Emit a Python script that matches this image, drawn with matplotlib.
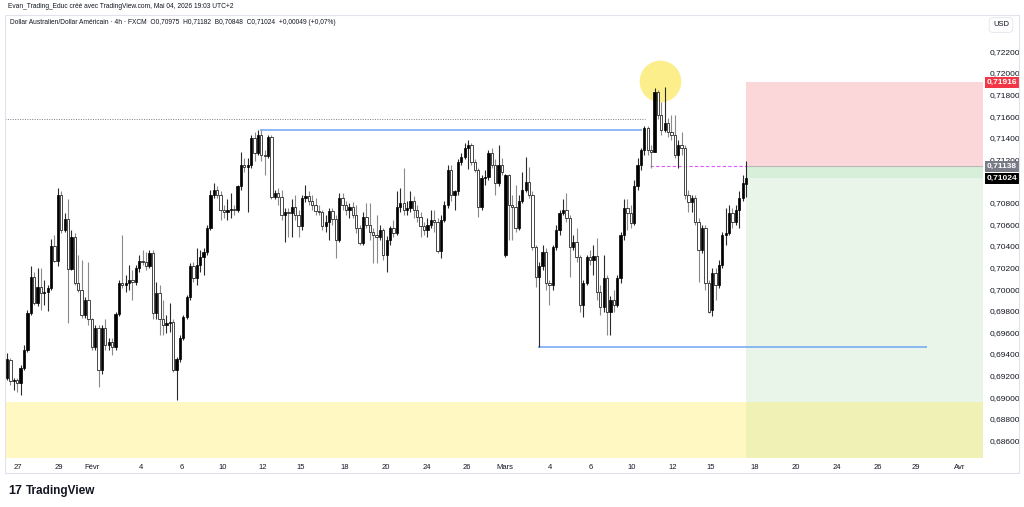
import numpy as np
import matplotlib.pyplot as plt
from matplotlib.patches import Rectangle

plt.rcParams['font.family'] = ['Liberation Sans', 'DejaVu Sans']

# 4h candles AUD/USD (one value per bar)
opens = [
    0.6918, 0.6934, 0.6915, 0.6916, 0.6913, 0.6927, 0.6944, 0.6978, 0.7011, 0.6987,
    0.7002, 0.6996, 0.6997, 0.7001, 0.7040, 0.7026, 0.7087, 0.7055, 0.7065, 0.7019,
    0.7048, 0.7006, 0.6999, 0.6976, 0.6990, 0.6972, 0.6946, 0.6964, 0.6925, 0.6964,
    0.6948, 0.6951, 0.6946, 0.6977, 0.7006, 0.7004, 0.7006, 0.7008, 0.7007, 0.7020,
    0.7026, 0.7025, 0.7021, 0.7033, 0.6978, 0.6996, 0.6972, 0.6967, 0.6969, 0.6970,
    0.6925, 0.6935, 0.6955, 0.6974, 0.6993, 0.7021, 0.7010, 0.7022, 0.7030, 0.7034,
    0.7057, 0.7087, 0.7092, 0.7087, 0.7073, 0.7071, 0.7073, 0.7074, 0.7073, 0.7095,
    0.7115, 0.7113, 0.7115, 0.7140, 0.7126, 0.7143, 0.7124, 0.7123, 0.7141, 0.7085,
    0.7089, 0.7085, 0.7069, 0.7071, 0.7070, 0.7076, 0.7069, 0.7058, 0.7084, 0.7086,
    0.7082, 0.7078, 0.7072, 0.7071, 0.7058, 0.7062, 0.7072, 0.7065, 0.7045, 0.7084,
    0.7078, 0.7073, 0.7076, 0.7069, 0.7057, 0.7043, 0.7067, 0.7059, 0.7053, 0.7050,
    0.7048, 0.7055, 0.7032, 0.7045, 0.7057, 0.7052, 0.7076, 0.7080, 0.7073, 0.7075,
    0.7082, 0.7073, 0.7067, 0.7058, 0.7055, 0.7059, 0.7064, 0.7062, 0.7035, 0.7064,
    0.7078, 0.7110, 0.7087, 0.7091, 0.7118, 0.7122, 0.7131, 0.7133, 0.7118, 0.7110,
    0.7076, 0.7103, 0.7104, 0.7126, 0.7115, 0.7098, 0.7115, 0.7032, 0.7106, 0.7078,
    0.7076, 0.7057, 0.7082, 0.7092, 0.7099, 0.7087, 0.7039, 0.7011, 0.7021, 0.7034,
    0.7006, 0.7004, 0.7039, 0.7055, 0.7070, 0.7073, 0.7066, 0.7039, 0.7044, 0.7030,
    0.6985, 0.7006, 0.7030, 0.7027, 0.7031, 0.6997, 0.6983, 0.7010, 0.6979, 0.6990,
    0.6985, 0.7010, 0.7050, 0.7075, 0.7070, 0.7061, 0.7095, 0.7115, 0.7129, 0.7149,
    0.7129, 0.7127, 0.7182, 0.7161, 0.7147, 0.7154, 0.7145, 0.7143, 0.7124, 0.7133,
    0.7131, 0.7087, 0.7081, 0.7084, 0.7062, 0.7036, 0.7057, 0.7006, 0.6981, 0.7015,
    0.7004, 0.7022, 0.7050, 0.7052, 0.7070, 0.7062, 0.7073, 0.7084, 0.70975,
]
highs = [
    0.6941, 0.6936, 0.6918, 0.6918, 0.6930, 0.6948, 0.6981, 0.7021, 0.7016, 0.7020,
    0.7020, 0.7008, 0.7004, 0.7046, 0.7050, 0.7094, 0.7091, 0.7070, 0.7083, 0.7055,
    0.7052, 0.7032, 0.7027, 0.6993, 0.7025, 0.6973, 0.6967, 0.6967, 0.6967, 0.6972,
    0.6955, 0.6955, 0.6979, 0.7008, 0.7050, 0.7013, 0.7022, 0.7018, 0.7022, 0.7032,
    0.7036, 0.7034, 0.7036, 0.7036, 0.7007, 0.7004, 0.6990, 0.6976, 0.6987, 0.6972,
    0.6937, 0.6958, 0.6976, 0.6995, 0.7024, 0.7025, 0.7038, 0.7036, 0.7038, 0.7059,
    0.7092, 0.7098, 0.7095, 0.7091, 0.7078, 0.7083, 0.7089, 0.7078, 0.7096, 0.7127,
    0.7121, 0.7121, 0.7143, 0.7145, 0.7147, 0.7147, 0.7129, 0.7143, 0.7143, 0.7092,
    0.7094, 0.7092, 0.7075, 0.7075, 0.7083, 0.7087, 0.7073, 0.7087, 0.7096, 0.7091,
    0.7087, 0.7084, 0.7078, 0.7073, 0.7069, 0.7075, 0.7075, 0.7069, 0.7089, 0.7089,
    0.7082, 0.7080, 0.7081, 0.7078, 0.7059, 0.7071, 0.7080, 0.7080, 0.7057, 0.7069,
    0.7059, 0.7057, 0.7049, 0.7058, 0.7064, 0.7091, 0.7094, 0.7112, 0.7082, 0.7091,
    0.7086, 0.7078, 0.7071, 0.7062, 0.7066, 0.7073, 0.7073, 0.7066, 0.7069, 0.7082,
    0.7115, 0.7115, 0.7092, 0.7120, 0.7126, 0.7135, 0.7138, 0.7135, 0.7120, 0.7112,
    0.7106, 0.7110, 0.7129, 0.7131, 0.7120, 0.7133, 0.7121, 0.7107, 0.7107, 0.7087,
    0.7096, 0.7087, 0.7108, 0.7122, 0.7113, 0.7091, 0.7041, 0.7025, 0.7041, 0.7038,
    0.7008, 0.7041, 0.7059, 0.7073, 0.7083, 0.7089, 0.7069, 0.7050, 0.7057, 0.7032,
    0.7008, 0.7032, 0.7036, 0.7041, 0.7047, 0.7004, 0.7032, 0.7013, 0.6994, 0.6999,
    0.7013, 0.7053, 0.7083, 0.7083, 0.7078, 0.7101, 0.7121, 0.7131, 0.7151, 0.7151,
    0.7133, 0.7186, 0.7184, 0.7173, 0.7187, 0.7158, 0.7161, 0.7161, 0.7138, 0.7145,
    0.7133, 0.7092, 0.7087, 0.7087, 0.7066, 0.7059, 0.7059, 0.7008, 0.7020, 0.7020,
    0.7027, 0.7053, 0.7075, 0.7078, 0.7075, 0.7078, 0.7091, 0.7106, 0.71182,
]
lows = [
    0.6916, 0.6911, 0.6907, 0.6905, 0.6902, 0.6925, 0.6942, 0.6976, 0.6985, 0.6984,
    0.6981, 0.6985, 0.6980, 0.6999, 0.7025, 0.7021, 0.7052, 0.7053, 0.6969, 0.7018,
    0.7004, 0.6997, 0.6973, 0.6973, 0.6967, 0.6944, 0.6944, 0.6909, 0.6921, 0.6944,
    0.6944, 0.6939, 0.6944, 0.6975, 0.7001, 0.6997, 0.6999, 0.6990, 0.7004, 0.7016,
    0.7022, 0.7018, 0.7020, 0.6972, 0.6972, 0.6958, 0.6958, 0.6959, 0.6960, 0.6923,
    0.6897, 0.6933, 0.6953, 0.6972, 0.6990, 0.7007, 0.7004, 0.7016, 0.7013, 0.7032,
    0.7055, 0.7084, 0.7084, 0.7064, 0.7066, 0.7064, 0.7066, 0.7069, 0.7071, 0.7092,
    0.7108, 0.7071, 0.7112, 0.7119, 0.7124, 0.7119, 0.7106, 0.7121, 0.7083, 0.7083,
    0.7078, 0.7064, 0.7044, 0.7048, 0.7048, 0.7064, 0.7048, 0.7055, 0.7081, 0.7078,
    0.7073, 0.7069, 0.7069, 0.7055, 0.7053, 0.7045, 0.7059, 0.7029, 0.7044, 0.7073,
    0.7069, 0.7066, 0.7066, 0.7052, 0.7041, 0.7041, 0.7057, 0.7045, 0.7024, 0.7024,
    0.7045, 0.7027, 0.7016, 0.7041, 0.7048, 0.7050, 0.7071, 0.7069, 0.7069, 0.7071,
    0.7066, 0.7062, 0.7048, 0.7050, 0.7048, 0.7057, 0.7053, 0.7033, 0.7029, 0.7062,
    0.7075, 0.7082, 0.7073, 0.7087, 0.7115, 0.7120, 0.7111, 0.7115, 0.7108, 0.7067,
    0.7073, 0.7096, 0.7101, 0.7112, 0.7087, 0.7095, 0.7106, 0.7030, 0.7045, 0.7045,
    0.7053, 0.7055, 0.7080, 0.7090, 0.7084, 0.7036, 0.7002, 0.6946, 0.7018, 0.6999,
    0.6985, 0.6999, 0.7036, 0.7050, 0.7069, 0.7062, 0.7011, 0.7036, 0.7025, 0.6979,
    0.6974, 0.7004, 0.7022, 0.7013, 0.6990, 0.6976, 0.6979, 0.6958, 0.6958, 0.6979,
    0.6983, 0.7006, 0.7045, 0.7055, 0.7057, 0.7059, 0.7092, 0.7110, 0.7124, 0.7124,
    0.7112, 0.7127, 0.7157, 0.7143, 0.7145, 0.7141, 0.7138, 0.7121, 0.7112, 0.7124,
    0.7083, 0.7071, 0.7071, 0.7059, 0.7007, 0.7033, 0.6999, 0.6978, 0.6975, 0.6990,
    0.7001, 0.7020, 0.7041, 0.7050, 0.7057, 0.7059, 0.7057, 0.7082, 0.70848,
]
closes = [
    0.6935, 0.6915, 0.6916, 0.6913, 0.6927, 0.6944, 0.6978, 0.7011, 0.6987, 0.7002,
    0.6996, 0.6997, 0.7001, 0.7040, 0.7026, 0.7087, 0.7055, 0.7065, 0.7019, 0.7048,
    0.7006, 0.6999, 0.6976, 0.6990, 0.6972, 0.6946, 0.6964, 0.6925, 0.6964, 0.6948,
    0.6951, 0.6946, 0.6977, 0.7006, 0.7004, 0.7006, 0.7008, 0.7007, 0.7020, 0.7026,
    0.7025, 0.7021, 0.7033, 0.6978, 0.6996, 0.6972, 0.6967, 0.6969, 0.6970, 0.6925,
    0.6935, 0.6955, 0.6974, 0.6993, 0.7021, 0.7010, 0.7022, 0.7030, 0.7034, 0.7057,
    0.7087, 0.7092, 0.7087, 0.7073, 0.7071, 0.7073, 0.7074, 0.7073, 0.7095, 0.7115,
    0.7113, 0.7115, 0.7140, 0.7126, 0.7143, 0.7124, 0.7123, 0.7141, 0.7085, 0.7089,
    0.7085, 0.7069, 0.7071, 0.7070, 0.7076, 0.7069, 0.7058, 0.7084, 0.7086, 0.7082,
    0.7078, 0.7072, 0.7071, 0.7058, 0.7062, 0.7072, 0.7065, 0.7045, 0.7084, 0.7078,
    0.7073, 0.7076, 0.7069, 0.7057, 0.7043, 0.7067, 0.7059, 0.7053, 0.7050, 0.7048,
    0.7055, 0.7032, 0.7045, 0.7057, 0.7052, 0.7076, 0.7080, 0.7073, 0.7075, 0.7082,
    0.7073, 0.7067, 0.7058, 0.7055, 0.7059, 0.7064, 0.7062, 0.7035, 0.7064, 0.7078,
    0.7110, 0.7087, 0.7091, 0.7118, 0.7122, 0.7131, 0.7133, 0.7118, 0.7110, 0.7076,
    0.7103, 0.7104, 0.7126, 0.7115, 0.7098, 0.7115, 0.7108, 0.7106, 0.7078, 0.7076,
    0.7057, 0.7082, 0.7092, 0.7099, 0.7087, 0.7039, 0.7011, 0.7021, 0.7034, 0.7006,
    0.7004, 0.7039, 0.7055, 0.7070, 0.7073, 0.7066, 0.7039, 0.7044, 0.7030, 0.6985,
    0.7006, 0.7030, 0.7027, 0.7031, 0.6997, 0.6983, 0.7010, 0.6979, 0.6990, 0.6985,
    0.7010, 0.7050, 0.7075, 0.7070, 0.7061, 0.7095, 0.7115, 0.7129, 0.7149, 0.7129,
    0.7127, 0.7182, 0.7161, 0.7147, 0.7154, 0.7145, 0.7143, 0.7124, 0.7133, 0.7131,
    0.7087, 0.7081, 0.7084, 0.7062, 0.7036, 0.7057, 0.7006, 0.6979, 0.7015, 0.7004,
    0.7022, 0.7050, 0.7052, 0.7070, 0.7062, 0.7073, 0.7084, 0.7098, 0.71024,
]

# time axis labels (bar index where each label sits)
tick_pos = [3.2, 15.3, 25.1, 39.5, 51.6, 63.7, 75.5, 86.7, 99.7, 111.8, 123.9, 135.7,
            146.9, 160.2, 172.3, 184.4, 196.5, 207.7, 220.6, 232.7, 244.8, 256.9, 268.1, 281.1]
tick_labels = ['27', '29', 'Févr', '4', '6', '10', '12', '15', '18', '20', '24', '26',
               'Mars', '4', '6', '10', '12', '15', '18', '20', '24', '26', '29', 'Avr']

price_ticks = [0.686, 0.688, 0.690, 0.692, 0.694, 0.696, 0.698, 0.700, 0.702, 0.704,
               0.706, 0.708, 0.712, 0.714, 0.716, 0.718, 0.720, 0.722]

# drawings
entry = 0.71138
stop = 0.71916
last = 0.71024
demand_top = 0.68955
resistance = 0.71473
support = 0.69464
dotted_level = 0.71574
res_span = (74.6, 187.3)
sup_span = (156.6, 271.4)
dotted_end = 188.2
pink_start = 189.7
circle_at = (192.7, 0.71926)

xmin, xmax = -0.6, 287.9
ymin, ymax = 0.68437, 0.72537

o = np.array(opens)
h = np.array(highs)
l = np.array(lows)
c = np.array(closes)
idx = np.arange(len(c))
up = c >= o
pos_x = idx[-1]

fig = plt.figure(figsize=(10.24, 5.07), dpi=100, facecolor='white')
ax = fig.add_axes([5 / 1024, 49 / 507, 978 / 1024, 443 / 507])
ax.set_xlim(xmin, xmax)
ax.set_ylim(ymin, ymax)

# short position tool
ax.add_patch(Rectangle((pos_x, entry), xmax - pos_x, stop - entry, color='#fcd7da', lw=0, zorder=0))
ax.add_patch(Rectangle((pos_x, ymin), xmax - pos_x, entry - ymin, color='#eaf5ea', lw=0, zorder=0))
ax.add_patch(Rectangle((pos_x, last), xmax - pos_x, entry - last, color='#d7eed8', lw=0, zorder=0))
ax.hlines(entry, pos_x, xmax, color='#b8b8b8', lw=0.8, zorder=1)

# yellow demand zone
ax.add_patch(Rectangle((xmin, ymin), xmax - xmin, demand_top - ymin, color='#ffeb3b', alpha=0.3, lw=0, zorder=1))

# highlight circle at the top
ax.scatter([circle_at[0]], [circle_at[1]], s=900, color='#fdee8c', lw=0, zorder=2)

# levels
ax.hlines(dotted_level, xmin, dotted_end, color='#787b86', lw=0.7, linestyles=(0, (1, 1.5)), zorder=3)
ax.hlines(resistance, *res_span, color='#6ea6f5', lw=1.1, zorder=3)
ax.hlines(support, *sup_span, color='#6ea6f5', lw=1.1, zorder=3)
ax.hlines(entry, pink_start, pos_x, color='#e056fd', lw=0.8, linestyles=(0, (3, 2)), zorder=3)

# candles
wick_cols = np.where(up, '#2a2a2a', '#8a8a8a')
ax.vlines(idx, l, h, colors=wick_cols, lw=0.8, zorder=4)
body_bottom = np.minimum(o, c)
body_height = np.maximum(np.abs(c - o), 0.00003)
ax.bar(idx, body_height, bottom=body_bottom, width=0.68,
       color=np.where(up, 'black', 'white'), edgecolor='black', linewidth=0.5, zorder=5)

for s in ax.spines.values():
    s.set_visible(False)

ax.set_xticks(tick_pos, tick_labels)
ax.tick_params(axis='x', length=0, pad=4, labelsize=5.5, labelcolor='#131722')
ax.yaxis.tick_right()
ax.set_yticks(price_ticks, [f'{p:.5f}'.replace('.', ',') for p in price_ticks])
ax.tick_params(axis='y', length=0, pad=5, labelsize=6, labelcolor='#131722')

# price scale tags
ytr = ax.get_yaxis_transform()
for val, col in [(stop, '#f23645'), (entry, '#787b86'), (last, '#000000')]:
    ax.text(1.0 + 4 / 978, val, f'{val:.5f}'.replace('.', ','), transform=ytr, ha='left', va='center',
            fontsize=6, color='white', fontweight='bold',
            bbox=dict(boxstyle='square,pad=0.25', fc=col, ec='none'), clip_on=False, zorder=10)

# panel frame and header
fig.patches.append(Rectangle((5 / 1024, 1 - 473 / 507), 1014 / 1024, 458 / 507, transform=fig.transFigure,
                             fill=False, ec='#e0e3eb', lw=0.8))
fig.text(8 / 1024, 1 - 7 / 507, 'Evan_Trading_Educ créé avec TradingView.com, Mai 04, 2026 19:03 UTC+2',
         fontsize=4.8, color='#131722', va='center')
fig.text(10 / 1024, 1 - 22 / 507,
         'Dollar Australien/Dollar Américain · 4h · FXCM  O0,70975  H0,71182  B0,70848  C0,71024  +0,00049 (+0,07%)',
         fontsize=4.8, color='#131722', va='center')
fig.text(1001 / 1024, 1 - 25 / 507, 'USD', fontsize=5.5, color='#131722', ha='center', va='center',
         bbox=dict(boxstyle='round,pad=0.5', fc='white', ec='#e0e3eb', lw=0.6))

# footer logo
fig.text(8 / 1024, 1 - 491 / 507, '17', fontsize=9, fontweight='heavy', color='#131722', va='center')
fig.text(26 / 1024, 1 - 491 / 507, 'TradingView', fontsize=8.5, fontweight='bold', color='#131722', va='center')

fig.savefig('out.png', dpi=100, facecolor='white')
